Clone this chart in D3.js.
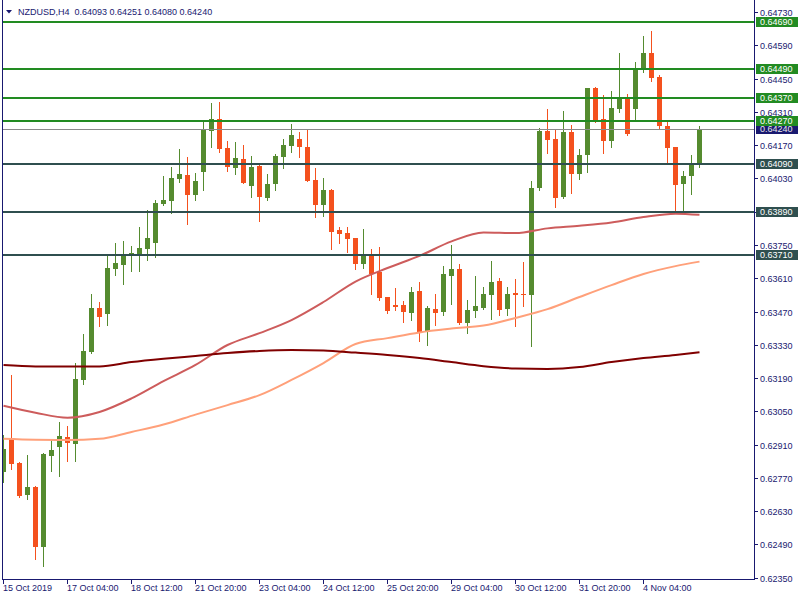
<!DOCTYPE html>
<html><head><meta charset="utf-8">
<script src="https://cdn.jsdelivr.net/npm/d3@7"></script>
<style>
body{margin:0;background:#fff;}
svg{display:block;}
text{font-family:"Liberation Sans",Arial,sans-serif;font-size:9px;}
</style>
</head><body>
<svg id="chart" width="800" height="600"></svg>
<script>
const symbol = "NZDUSD,H4";
const opens = [0.62795,0.62933,0.62832,0.62699,0.62731,0.62480,0.62863,0.62901,0.62942,0.62913,
0.63183,0.63299,0.63485,0.63461,0.63650,0.63666,0.63711,0.63713,0.63734,0.63760,
0.63922,0.63935,0.64028,0.64045,0.63960,0.64058,0.64231,0.64280,0.64158,0.64075,
0.64112,0.63999,0.64082,0.63949,0.64008,0.64122,0.64168,0.64196,0.64162,0.64024,
0.63920,0.63981,0.63813,0.63800,0.63779,0.63671,0.63708,0.63637,0.63531,0.63497,
0.63497,0.63465,0.63556,0.63385,0.63480,0.63469,0.63621,0.63649,0.63423,0.63473,
0.63486,0.63541,0.63598,0.63482,0.63548,0.63544,0.63541,0.63991,0.64230,0.64196,
0.63953,0.64226,0.64050,0.64130,0.64411,0.64280,0.64189,0.64324,0.64365,0.64324,
0.64487,0.64558,0.64457,0.64251,0.64162,0.64008,0.64042,0.64093];
const highs = [0.62950,0.63203,0.62836,0.62866,0.62735,0.62874,0.62933,0.63005,0.62988,0.63253,
0.63375,0.63544,0.63509,0.63704,0.63758,0.63767,0.63746,0.63826,0.63897,0.63938,
0.64040,0.64078,0.64154,0.64120,0.64053,0.64269,0.64348,0.64352,0.64188,0.64184,
0.64171,0.64125,0.64091,0.64049,0.64133,0.64196,0.64259,0.64226,0.64238,0.64074,
0.64032,0.63986,0.63826,0.63827,0.63779,0.63817,0.63733,0.63741,0.63531,0.63569,
0.63514,0.63573,0.63594,0.63493,0.63544,0.63661,0.63750,0.63670,0.63518,0.63619,
0.63573,0.63683,0.63611,0.63573,0.63607,0.63678,0.64019,0.64242,0.64322,0.64235,
0.64314,0.64255,0.64154,0.64411,0.64415,0.64381,0.64398,0.64558,0.64386,0.64520,
0.64630,0.64651,0.64466,0.64269,0.64162,0.64061,0.64129,0.64251];
const lows = [0.62753,0.62806,0.62690,0.62682,0.62429,0.62400,0.62800,0.62779,0.62842,0.62842,
0.63166,0.63296,0.63410,0.63413,0.63624,0.63587,0.63640,0.63640,0.63687,0.63699,
0.63918,0.63885,0.64015,0.63838,0.63939,0.63981,0.64164,0.64143,0.64063,0.64050,
0.64011,0.63953,0.63852,0.63941,0.63983,0.64075,0.64143,0.64122,0.64019,0.63869,
0.63873,0.63734,0.63760,0.63722,0.63650,0.63654,0.63545,0.63517,0.63465,0.63478,
0.63424,0.63435,0.63347,0.63330,0.63414,0.63456,0.63503,0.63419,0.63381,0.63448,
0.63482,0.63440,0.63456,0.63456,0.63410,0.63494,0.63326,0.63983,0.64138,0.63911,
0.63949,0.63970,0.64029,0.64058,0.64269,0.64138,0.64164,0.64311,0.64213,0.64272,
0.64478,0.64442,0.64244,0.64101,0.63886,0.63883,0.63966,0.64080];
const closes = [0.62891,0.62827,0.62694,0.62731,0.62480,0.62870,0.62887,0.62946,0.62918,0.63186,
0.63304,0.63485,0.63448,0.63653,0.63674,0.63708,0.63715,0.63737,0.63779,0.63927,
0.63939,0.64032,0.64049,0.63960,0.64019,0.64235,0.64280,0.64154,0.64080,0.64116,
0.64012,0.64078,0.63953,0.64007,0.64125,0.64171,0.64213,0.64164,0.64021,0.63920,
0.63981,0.63806,0.63797,0.63776,0.63671,0.63711,0.63629,0.63528,0.63473,0.63490,
0.63469,0.63552,0.63385,0.63485,0.63465,0.63628,0.63649,0.63423,0.63476,0.63493,
0.63544,0.63594,0.63478,0.63544,0.63541,0.63541,0.63990,0.64230,0.64193,0.63949,
0.64226,0.64050,0.64129,0.64411,0.64277,0.64189,0.64327,0.64369,0.64218,0.64487,
0.64558,0.64454,0.64252,0.64160,0.64004,0.64042,0.64095,0.64240];

const timeTickIndex = [0,8,16,24,32,40,48,56,64,72,80];
const timeTickLabels = ["15 Oct 2019","17 Oct 04:00","18 Oct 12:00","21 Oct 20:00","23 Oct 04:00","24 Oct 12:00","25 Oct 20:00","29 Oct 04:00","30 Oct 12:00","31 Oct 20:00","4 Nov 04:00"];
const priceTicks = [0.64730,0.64590,0.64450,0.64310,0.64170,0.64030,0.63890,0.63750,0.63610,0.63470,0.63330,0.63190,0.63050,0.62910,0.62770,0.62630,0.62490,0.62350];

const maBars = [0,4,8,12,16,20,24,28,32,36,40,44,48,52,56,60,64,68,72,76,80,84,87];
const maSlow = [0.63245,0.63239,0.63238,0.63239,0.63257,0.63271,0.63283,0.63295,0.63304,0.63308,0.63306,0.63297,0.63287,0.63274,0.63257,0.63240,0.63230,0.63228,0.63236,0.63257,0.63274,0.63287,0.63299];
const maMid = [0.63073,0.63044,0.63023,0.63047,0.63104,0.63177,0.63245,0.63329,0.63379,0.63434,0.63510,0.63596,0.63653,0.63704,0.63765,0.63803,0.63800,0.63820,0.63831,0.63845,0.63868,0.63882,0.63877];
const maFast = [0.62934,0.62930,0.62929,0.62934,0.62963,0.62994,0.63036,0.63076,0.63118,0.63182,0.63253,0.63333,0.63358,0.63382,0.63398,0.63411,0.63443,0.63480,0.63531,0.63581,0.63628,0.63661,0.63680];

const resistanceLevels = [0.64690,0.64490,0.64370,0.64270];
const supportLevels = [0.64090,0.63890,0.63710];
const bidPrice = 0.64240;

const C = {axis:"#191970", up:"#558b2f", down:"#f4511e", res:"#228b22", sup:"#2f4f4f",
  bid:"#8a8a8a", bidBox:"#191970", slow:"#800000", mid:"#cd5c5c", fast:"#ffa07a"};
const L = 3, R = 754, T = 0, B = 579;

const svg = d3.select("#chart");
const x = d3.scaleLinear().domain([0, 87]).range([3.5, 699.5]);
const y = d3.scaleLinear().domain([0.63710, 0.64690]).range([254.5, 21.7]);

svg.append("defs").append("clipPath").attr("id","clip")
  .append("rect").attr("x",L).attr("y",T).attr("width",R-L).attr("height",B-T);

const plot = svg.append("g").attr("clip-path","url(#clip)");

// candles
const bars = d3.range(opens.length).map(i => ({i, o:opens[i], h:highs[i], l:lows[i], c:closes[i]}));
const cg = plot.append("g").attr("shape-rendering","crispEdges");
cg.selectAll("rect.wick").data(bars).join("rect").attr("class","wick")
  .attr("x", d => x(d.i) - 0.5).attr("width", 1)
  .attr("y", d => Math.round(y(d.h)))
  .attr("height", d => Math.max(1, Math.round(y(d.l)) - Math.round(y(d.h)) + 1))
  .attr("fill", d => d.c >= d.o ? C.up : C.down);
cg.selectAll("rect.body").data(bars).join("rect").attr("class","body")
  .attr("x", d => x(d.i) - 2.5).attr("width", 5)
  .attr("y", d => Math.round(y(Math.max(d.o, d.c))))
  .attr("height", d => Math.max(1, Math.round(y(Math.min(d.o, d.c))) - Math.round(y(Math.max(d.o, d.c)))))
  .attr("fill", d => d.c >= d.o ? C.up : C.down);

// moving averages
const line = d3.line().x(d => x(d[0])).y(d => y(d[1])).curve(d3.curveMonotoneX);
[[maFast, C.fast],[maMid, C.mid],[maSlow, C.slow]].forEach(([arr, col]) => {
  plot.append("path").datum(maBars.map((b, k) => [b, arr[k]]))
    .attr("d", line).attr("fill","none").attr("stroke", col).attr("stroke-width", 2);
});

// horizontal levels
const lg = svg.append("g").attr("shape-rendering","crispEdges");
lg.append("line").attr("x1",L).attr("x2",R)
  .attr("y1",Math.round(y(bidPrice))+0.5).attr("y2",Math.round(y(bidPrice))+0.5).attr("stroke",C.bid).attr("stroke-width",1);
resistanceLevels.forEach(p => lg.append("line").attr("x1",L).attr("x2",R)
  .attr("y1",Math.round(y(p))).attr("y2",Math.round(y(p))).attr("stroke",C.res).attr("stroke-width",2));
supportLevels.forEach(p => lg.append("line").attr("x1",L).attr("x2",R)
  .attr("y1",Math.round(y(p))).attr("y2",Math.round(y(p))).attr("stroke",C.sup).attr("stroke-width",2));

// frame
const fg = svg.append("g").attr("shape-rendering","crispEdges").attr("stroke",C.axis).attr("stroke-width",1);
fg.append("line").attr("x1",2.5).attr("x2",2.5).attr("y1",0).attr("y2",B+0.5);
fg.append("line").attr("x1",R+0.5).attr("x2",R+0.5).attr("y1",0).attr("y2",B+0.5);
fg.append("line").attr("x1",2).attr("x2",R+1).attr("y1",B+0.5).attr("y2",B+0.5);

// price axis
const ya = svg.append("g");
priceTicks.forEach(p => {
  const yy = Math.round(y(p)) + 0.5;
  ya.append("line").attr("x1",R).attr("x2",R+4).attr("y1",yy).attr("y2",yy)
    .attr("stroke",C.axis).attr("shape-rendering","crispEdges");
  ya.append("text").attr("x",760).attr("y",yy).attr("dy","0.35em").attr("fill",C.axis)
    .text(d3.format(".5f")(p));
});

// level labels (bid first, level boxes drawn over it)
function levelBox(p, bg, fg) {
  const yy = Math.round(y(p));
  ya.append("rect").attr("x",756).attr("y",yy-5).attr("width",42).attr("height",10)
    .attr("fill",bg).attr("shape-rendering","crispEdges");
  ya.append("text").attr("x",760).attr("y",yy).attr("dy","0.35em").attr("fill",fg)
    .text(d3.format(".5f")(p));
}
levelBox(bidPrice, C.bidBox, "#e8e8e8");
resistanceLevels.forEach(p => levelBox(p, C.res, "#ffffff"));
supportLevels.forEach(p => levelBox(p, C.sup, "#ffffff"));

// time axis
const xa = svg.append("g");
timeTickIndex.forEach((b, k) => {
  const xx = x(b);
  xa.append("line").attr("x1",xx).attr("x2",xx).attr("y1",B).attr("y2",B+5)
    .attr("stroke",C.axis).attr("shape-rendering","crispEdges");
  xa.append("text").attr("x",xx-0.5).attr("y",591).attr("fill",C.axis).text(timeTickLabels[k]);
});

// title
svg.append("path").attr("d","M6,10 L12,10 L9,13.5 Z").attr("fill",C.axis);
svg.append("text").attr("x",18).attr("y",14.5).attr("fill",C.axis)
  .attr("xml:space","preserve")
  .text(symbol + "  " + [opens[87], highs[87], lows[87], closes[87]].map(d3.format(".5f")).join(" "));
</script>
</body></html>
